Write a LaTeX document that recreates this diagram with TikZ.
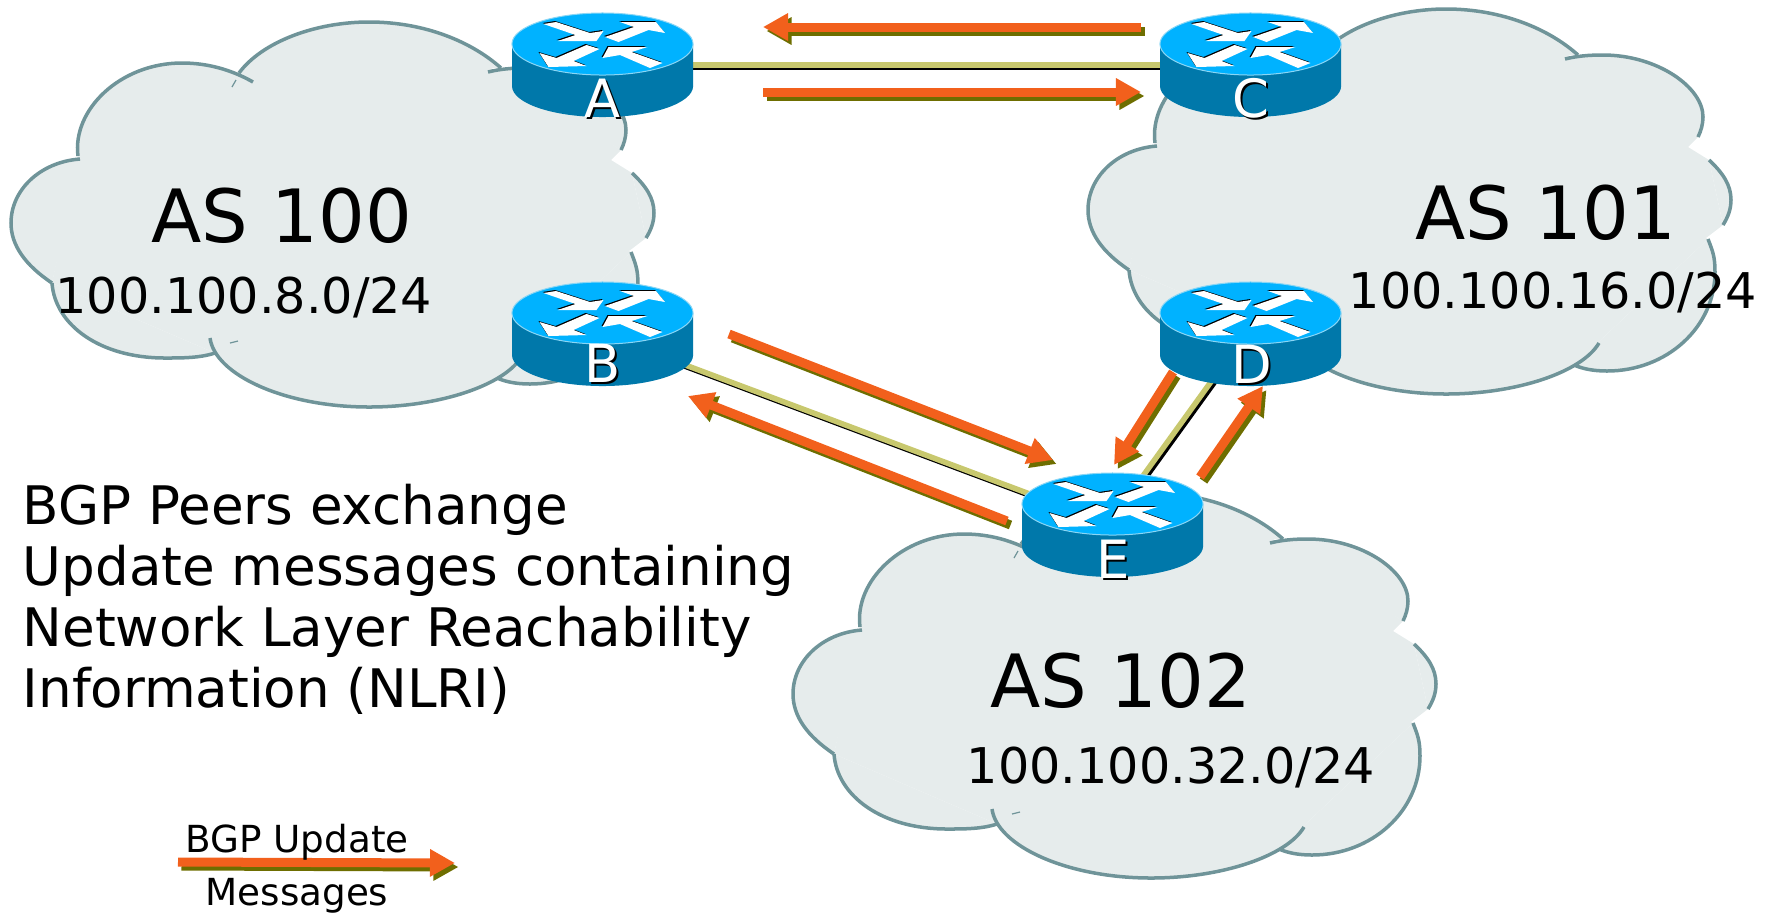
\documentclass[tikz,border=0pt]{standalone}
\usepackage{fontspec}
\setmainfont{DejaVu Sans}
\usetikzlibrary{arrows.meta}
\definecolor{cloudgray}{HTML}{E6ECEC}
\definecolor{cloudrim}{HTML}{6F9499}
\definecolor{routertop}{HTML}{00B2FF}
\definecolor{routerside}{HTML}{0078AA}
\definecolor{routerrim}{HTML}{8AD6F5}
\definecolor{msgorange}{HTML}{F2601C}
\definecolor{msgolive}{HTML}{6E6E00}
\definecolor{peerkhaki}{HTML}{C8C86E}

\tikzset{
  cloudbody/.style={fill=cloudgray},
  cloudedge/.style={draw=cloudrim,line width=0.035cm},
  routerbox/.style={minimum width=1.81cm,minimum height=1.04cm,inner sep=0pt},
  routerlabel/.style={anchor=base,inner sep=0pt,font=\fontsize{15}{18}\selectfont},
  peerlink/.style={line width=0.055cm,draw=peerkhaki},
  peershadow/.style={line width=0.04cm,draw=black,transform canvas={xshift=0.025cm,yshift=-0.03cm}},
  msgfront/.style={draw=msgorange,line width=0.09cm,-{Triangle[length=0.25cm,width=0.26cm]},fill=msgorange},
  msgshadow/.style={draw=msgolive,line width=0.09cm,-{Triangle[length=0.25cm,width=0.26cm]},fill=msgolive,transform canvas={xshift=0.035cm,yshift=-0.04cm}},
  asname/.style={anchor=base,inner sep=0pt,font=\fontsize{20.9}{25}\selectfont},
  asprefix/.style={anchor=base,inner sep=0pt,font=\fontsize{14}{17}\selectfont},
  notetext/.style={anchor=north west,inner sep=0pt,align=left,font=\fontsize{15.1}{17.4}\selectfont},
  legendtext/.style={anchor=base,inner sep=0pt,font=\fontsize{10.6}{12}\selectfont}
}

% one cloud is eight lobes, filled first and stroked afterwards
\newcommand\cloudlobes[1]{
  \path[#1] (78,156) .. controls (72,110) and (120,63) .. (182,63) .. controls (208,63) and (232,70) .. (253,82);
  \path[#1] (239,73) .. controls (262,42) and (315,22) .. (369,22) .. controls (425,22) and (472,42) .. (501,68);
  \path[#1] (488,72) .. controls (500,69) and (512,68) .. (526,68) .. controls (580,68) and (626,100) .. (626,130) .. controls (626,137) and (624,144) .. (621,150);
  \path[#1] (632,173) .. controls (646,186) and (654,198) .. (654,213) .. controls (654,222) and (651,230) .. (646,238);
  \path[#1] (631,252) .. controls (636,265) and (638,270) .. (638,285) .. controls (638,340) and (590,384) .. (530,384) .. controls (517,384) and (506,382) .. (497,378);
  \path[#1] (522,356) .. controls (505,385) and (440,407) .. (369,407) .. controls (285,407) and (215,375) .. (210,338);
  \path[#1] (215,353) .. controls (200,358) and (182,358) .. (165,358) .. controls (100,358) and (55,325) .. (52,283);
  \path[#1] (52,283) .. controls (25,265) and (11,245) .. (11,223) .. controls (11,190) and (40,162) .. (80,159);
}
\newcommand\cloudshape[2]{
  \begin{scope}[shift={(#1,#2)}]
    \fill[cloudbody] (78,156) -- (255,66) -- (485,64) -- (621,150) -- (611,160) -- (632,173) -- (646,238) -- (629,251) -- (631,252) -- (497,378) -- (215,353) -- (52,283) -- cycle;
    \cloudlobes{cloudbody}
    \cloudlobes{cloudedge}
    \draw[cloudrim,line width=0.012cm] (232,87) -- (236,80);
    \draw[cloudrim,line width=0.012cm] (230,343) -- (238,341);
  \end{scope}
}
% four crossing arrows on the lid
\newcommand\lidarrows[1]{
  \fill[#1] (-59,-41) -- (-46.5,-43) -- (-12.5,-32) -- (1,-34) -- (-6,-24) -- (-45,-24) -- (-27,-30) -- cycle;
  \fill[#1] (2.5,-28) -- (31.5,-38) -- (17.5,-43) -- (53.5,-43) -- (62.5,-32) -- (46,-35) -- (16,-23) -- cycle;
  \fill[#1] (-63,-12) -- (-46,-7) -- (-16,-20) -- (-3,-16) -- (-29,-4) -- (-16,1) -- (-54,2) -- cycle;
  \fill[#1] (0,-7) -- (6,-18) -- (45,-18) -- (29,-13) -- (60,-2) -- (47.5,3) -- (17.5,-10) -- cycle;
}
\newcommand\routericon[1]{
  \begin{scope}[shift={(#1.center)}]
    \fill[routerside] (-90.5,-21) -- (-90.5,21) arc[x radius=0.905cm,y radius=0.31cm,start angle=180,end angle=360] -- (90.5,-21) -- cycle;
    \filldraw[fill=routertop,draw=routerrim,line width=0.01cm] (0,-21) ellipse[x radius=0.905cm,y radius=0.31cm];
    \begin{scope}[shift={(-1,-1)}]
      \lidarrows{black}
    \end{scope}
    \lidarrows{white}
  \end{scope}
}
\newcommand\routerletter[4]{
  \node[routerlabel,text=black] (#1shadow) at (#3+2,#4+2) {#2};
  \node[routerlabel,text=white] (#1letter) at (#3,#4) {#2};
}
\newcommand\msgarrow[2]{
  \draw[msgshadow] (#1) -- (#2);
  \draw[msgfront] (#1) -- (#2);
}

\begin{document}
\begin{tikzpicture}[x=0.01cm,y=-0.01cm]
  \useasboundingbox (0,0) rectangle (1775,914);

  % Clouds
  \cloudshape{0}{0}
  \cloudshape{1077}{-13}
  \cloudshape{782}{471}

  % Routers
  \node[routerbox] (A) at (602.5,65) {};
  \node[routerbox] (B) at (602.5,334) {};
  \node[routerbox] (C) at (1250.5,65) {};
  \node[routerbox] (D) at (1250.5,334) {};
  \node[routerbox] (E) at (1112.5,525) {};

  % Peerings
  \draw[peershadow] (A.center) -- (C.center);
  \draw[peerlink] (A.center) -- (C.center);
  \draw[peershadow] (B.center) -- (E.center);
  \draw[peerlink] (B.center) -- (E.center);
  \draw[peershadow] ([xshift=-0.05cm]D.center) -- ([xshift=-0.05cm]E.center);
  \draw[peerlink] ([xshift=-0.05cm]D.center) -- ([xshift=-0.05cm]E.center);

  \routericon{A}
  \routericon{B}
  \routericon{C}
  \routericon{D}
  \routericon{E}

  \routerletter{A}{A}{602.5}{117}
  \routerletter{B}{B}{603}{382}
  \routerletter{C}{C}{1251}{117}
  \routerletter{D}{D}{1252}{383}
  \routerletter{E}{E}{1113}{578}

  % Update messages
  \coordinate (ca1) at (1141,27);
  \coordinate (ca2) at (763,27);
  \coordinate (ac1) at (763,92);
  \coordinate (ac2) at (1141,92);
  \coordinate (be1) at (729,334);
  \coordinate (be2) at (1053,460);
  \coordinate (eb1) at (1007,521);
  \coordinate (eb2) at (688,396);
  \coordinate (de1) at (1173,372);
  \coordinate (de2) at (1114,465);
  \coordinate (ed1) at (1200,477);
  \coordinate (ed2) at (1263,386);
  \coordinate (key1) at (178,862);
  \coordinate (key2) at (455,863);
  \msgarrow{ca1}{ca2}
  \msgarrow{ac1}{ac2}
  \msgarrow{be1}{be2}
  \msgarrow{eb1}{eb2}
  \msgarrow{de1}{de2}
  \msgarrow{ed1}{ed2}
  \msgarrow{key1}{key2}

  % Texts
  \node[asname] (as100) at (282,242) {AS 100};
  \node[asprefix] (net100) at (244,313) {100.100.8.0/24};
  \node[asname] (as101) at (1546,239) {AS 101};
  \node[asprefix] (net101) at (1553,308) {100.100.16.0/24};
  \node[asname] (as102) at (1121,707) {AS 102};
  \node[asprefix] (net102) at (1171,783) {100.100.32.0/24};
  \node[notetext] (note) at (22,483) {BGP Peers exchange\\Update messages containing\\Network Layer Reachability\\Information (NLRI)};
  \node[legendtext] (keyup) at (297,852) {BGP Update};
  \node[legendtext] (keydown) at (297,905) {Messages};
\end{tikzpicture}
\end{document}
